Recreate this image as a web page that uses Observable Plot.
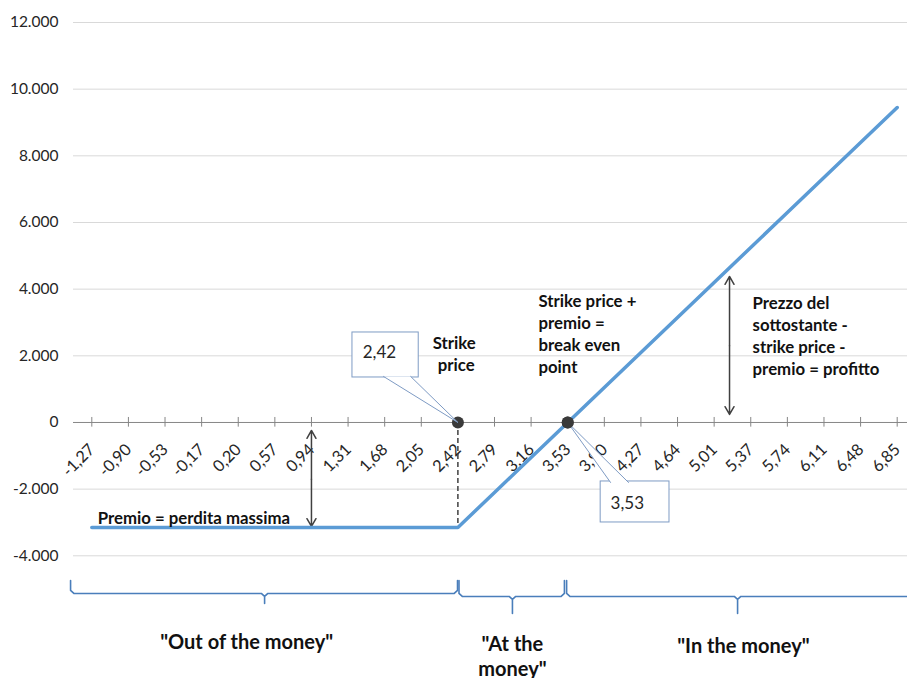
<!DOCTYPE html>
<html>
<head>
<meta charset="utf-8">
<script src="https://cdn.jsdelivr.net/npm/d3@7"></script>
<script src="https://cdn.jsdelivr.net/npm/@observablehq/plot@0.6"></script>
<style>
  html, body { margin: 0; padding: 0; background: #fff; overflow: hidden; }
  #chart svg { display: block; max-width: none !important; }
</style>
</head>
<body>
<div id="chart"></div>
<script>
// ---- data ----
const xLabels = ["-1,27","-0,90","-0,53","-0,17","0,20","0,57","0,94","1,31","1,68","2,05","2,42",
                 "2,79","3,16","3,53","3,90","4,27","4,64","5,01","5,37","5,74","6,11","6,48","6,85"];
const payoff  = [-3150,-3150,-3150,-3150,-3150,-3150,-3150,-3150,-3150,-3150,-3150,
                 -2100,-1050,0,1050,2100,3150,4200,5250,6300,7350,8400,9450];
const yTicks  = [-4000,-2000,0,2000,4000,6000,8000,10000,12000];
const strikeLabel = "2,42";
const breakEvenLabel = "3,53";
const premium = -3150;

const rows = xLabels.map((label, i) => ({i, label, v: payoff[i]}));
const iStrike = xLabels.indexOf(strikeLabel);
const iBreak = xLabels.indexOf(breakEvenLabel);
const keyPoints = [iStrike, iBreak].map(i => ({i, v: 0}));

const loc = d3.formatLocale({decimal: ",", thousands: ".", grouping: [3], currency: ["", "€"], minus: "-"});
const fmt = loc.format(",d");

// brace shape (annotation) in data coords
function brace(x0, xm, x1, yTop, yBar, yTip) {
  const ex = 0.09, ey = 90;
  return [
    {x: x0, y: yTop}, {x: x0, y: yBar + ey}, {x: x0 + ex, y: yBar},
    {x: xm - ex, y: yBar}, {x: xm, y: yBar - ey}, {x: xm, y: yTip},
    {x: xm, y: yBar - ey}, {x: xm + ex, y: yBar},
    {x: x1 - ex, y: yBar}, {x: x1, y: yBar + ey}, {x: x1, y: yTop}
  ];
}
const braces = [
  brace(-0.58, 4.72, iStrike - 0.01, -4740, -5130, -5430),
  brace(iStrike + 0.03, 11.49, iBreak - 0.09, -4740, -5220, -5730),
  brace(iBreak - 0.03, 17.64, 23.6, -4740, -5220, -5730)
];

const font = "Lato, 'Open Sans', sans-serif";
const dark = "#404040";
const ink = "#111";
const calloutStroke = "#7e9bc4";
const annoSize = 16.8;

const chart = Plot.plot({
  width: 907,
  height: 678,
  marginLeft: 73,
  marginRight: -8,
  marginTop: 22,
  marginBottom: 122.7,
  style: {fontFamily: font, background: "#fff", overflow: "visible"},
  x: {type: "linear", domain: [-0.5, xLabels.length - 0.5], axis: null},
  y: {type: "linear", domain: [-4000, 12000], axis: null},
  marks: [
    Plot.gridY(yTicks.filter(d => d !== 0), {stroke: "#d9d9d9", strokeOpacity: 1, strokeWidth: 1}),
    Plot.axisY(yTicks, {tickSize: 0, tickPadding: 15, tickFormat: fmt, fontSize: 15.5, fill: "#262626"}),
    // category axis at y = 0
    Plot.ruleY([0], {stroke: "#868686", strokeWidth: 1}),
    Plot.ruleX(rows, {x: "i", y1: -140, y2: 150, stroke: "#868686", strokeWidth: 1}),
    Plot.text(rows, {x: "i", y: 0, text: "label", rotate: -45, textAnchor: "end", lineAnchor: "bottom",
      dx: 4, dy: 28, fontSize: 16.3, fill: "#262626"}),
    // dashed strike line
    Plot.ruleX([iStrike], {y1: 0, y2: premium, stroke: dark, strokeWidth: 1.5, strokeDasharray: "5,3"}),
    // arrows
    Plot.arrow([{x: 6, y1: -1700, y2: -240}, {x: 6, y1: -1700, y2: -3120}],
      {x1: "x", x2: "x", y1: "y1", y2: "y2", stroke: dark, strokeWidth: 1.5, headLength: 9}),
    Plot.arrow([{x: 17.42, y1: 2300, y2: 4380}, {x: 17.42, y1: 2300, y2: 240}],
      {x1: "x", x2: "x", y1: "y1", y2: "y2", stroke: dark, strokeWidth: 1.5, headLength: 9}),
    // payoff line
    Plot.line(rows, {x: "i", y: "v", stroke: "#5B9BD5", strokeWidth: 3.5}),
    Plot.dot(keyPoints, {x: "i", y: "v", r: 6, fill: "#3a3a3a", stroke: "none"}),
    // callout 2,42
    Plot.rect([{x1: 7.12, x2: 8.93, y1: 1350, y2: 2700}], {x1: "x1", x2: "x2", y1: "y1", y2: "y2",
      fill: "white", stroke: calloutStroke, strokeWidth: 1}),
    Plot.line([{x: 7.97, y: 1380}, {x: iStrike, y: 0}, {x: 8.71, y: 1380}],
      {x: "x", y: "y", fill: "white", stroke: calloutStroke, strokeWidth: 1, curve: "linear"}),
    Plot.text([{x: 7.40, y: 2100, t: strikeLabel}], {x: "x", y: "y", text: "t", textAnchor: "start",
      fontSize: 17, fill: "#262626"}),
    // callout 3,53
    Plot.rect([{x1: 13.90, x2: 15.78, y1: -3000, y2: -1770}], {x1: "x1", x2: "x2", y1: "y1", y2: "y2",
      fill: "white", stroke: calloutStroke, strokeWidth: 1}),
    Plot.line([{x: 14.17, y: -1800}, {x: iBreak, y: 0}, {x: 14.66, y: -1800}],
      {x: "x", y: "y", fill: "white", stroke: calloutStroke, strokeWidth: 1, curve: "linear"}),
    Plot.dot([{i: iBreak, v: 0}], {x: "i", y: "v", r: 6, fill: "#3a3a3a", stroke: "none"}),
    Plot.text([{x: 14.17, y: -2430, t: breakEvenLabel}], {x: "x", y: "y", text: "t", textAnchor: "start",
      fontSize: 17, fill: "#262626"}),
    // annotation texts
    Plot.text([{x: 9.9, y: 2100, t: "Strike\n price"}], {x: "x", y: "y", text: "t", textAnchor: "middle",
      lineAnchor: "middle", lineHeight: 1.31, fontSize: annoSize, fontWeight: "bold", fill: ink}),
    Plot.text([{x: 12.2, y: 2700, t: "Strike price +\npremio =\nbreak even\npoint"}], {x: "x", y: "y", text: "t",
      textAnchor: "start", lineAnchor: "middle", lineHeight: 1.31, fontSize: annoSize, fontWeight: "bold", fill: ink}),
    Plot.text([{x: 18.05, y: 2640, t: "Prezzo del\nsottostante -\nstrike price -\npremio = profitto"}], {x: "x", y: "y", text: "t",
      textAnchor: "start", lineAnchor: "middle", lineHeight: 1.31, fontSize: annoSize, fontWeight: "bold", fill: ink}),
    Plot.text([{x: 0.16, y: -2880, t: "Premio = perdita massima"}], {x: "x", y: "y", text: "t",
      textAnchor: "start", lineAnchor: "middle", fontSize: annoSize, fontWeight: "bold", fill: ink}),
    // braces
    ...braces.map(b => Plot.line(b, {x: "x", y: "y", stroke: "#4a7ebb", strokeWidth: 1.6, curve: "linear"})),
    Plot.text([
      {x: 4.23, y: -6570, t: "\"Out of the money\""},
      {x: 11.49, y: -6980, t: "\"At the\nmoney\""},
      {x: 17.8, y: -6690, t: "\"In the money\""}
    ], {x: "x", y: "y", text: "t", textAnchor: "middle", lineAnchor: "middle", lineHeight: 1.25,
      fontSize: 20, fontWeight: "bold", fill: ink})
  ]
});
document.getElementById("chart").appendChild(chart);
</script>
</body>
</html>
